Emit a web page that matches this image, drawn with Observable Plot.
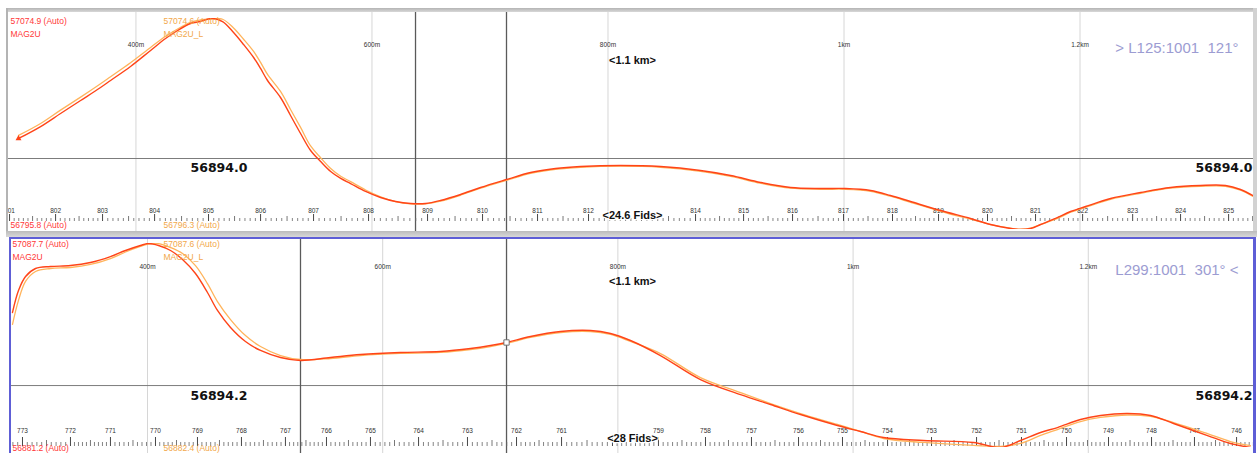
<!DOCTYPE html>
<html><head><meta charset="utf-8">
<script src="https://cdn.jsdelivr.net/npm/d3@7"></script>
<script src="https://cdn.jsdelivr.net/npm/@observablehq/plot@0.6"></script>
<style>
html,body{margin:0;padding:0;background:#fff;}
#wrap{position:relative;width:1259px;height:453px;overflow:hidden;font-family:"Liberation Sans",Arial,sans-serif;}
.panel{position:absolute;left:0;width:1259px;}
.deco{position:absolute;pointer-events:none;}
</style></head><body>
<div id="wrap">
  <div class="panel" id="top" style="top:8px;height:226px"></div>
  <div class="panel" id="bottom" style="top:234px;height:219px"></div>
  <div class="deco" style="left:6px;top:8px;width:1251px;height:4px;background:linear-gradient(#b4b4b4,#d8d8d8);"></div>
  <div class="deco" style="left:6px;top:8px;width:2px;height:226px;background:#b4b4b4;"></div>
  <div class="deco" style="left:1253px;top:8px;width:4px;height:226px;background:#d2d2d2;"></div>
  <div class="deco" style="left:6px;top:231px;width:1251px;height:6px;background:linear-gradient(#bcbcbc,#d8d8d8);"></div>
  <div class="deco" style="left:9px;top:237px;width:1247px;height:2px;background:#5e5ed6;"></div>
  <div class="deco" style="left:9px;top:237px;width:2px;height:216px;background:#5e5ed6;"></div>
  <div class="deco" style="left:1253px;top:237px;width:3px;height:216px;background:#5e5ed6;"></div>
</div>
<script>
// ---------- shared distance axis ----------
const distTicks = [400, 600, 800, 1000, 1200];
const distTickLabels = ["400m", "600m", "800m", "1km", "1.2km"];

// ---------- top profile: line L125:1001 ----------
const topFids = [801,802,803,804,805,806,807,808,809,810,811,812,813,814,815,816,817,818,819,820,821,822,823,824,825];
const topFidDist = [292.9,331.9,371.7,415.8,461.5,505.6,550.5,597.1,647.1,693.7,740.3,783.5,828.4,874.2,914.9,956.4,999.6,1041.1,1080.1,1121.6,1162.3,1202.2,1244.6,1285.2,1325.9];
const topHiddenFidLabels = [813]; // covered by the "<24.6 Fids>" caption
const topDist = [300.5,319.2,336.1,353.1,370.0,378.5,395.4,412.4,425.1,435.3,446.3,454.7,464.1,473.4,482.7,491.2,499.7,505.6,511.5,522.5,531.0,539.5,548.0,556.5,565.0,573.5,581.9,594.6,607.3,620.0,632.7,645.4,658.1,675.1,692.0,714.0,734.4,755.6,776.7,810.6,844.5,878.4,903.9,929.3,954.7,980.1,1001.3,1022.5,1039.4,1056.4,1081.8,1107.2,1124.2,1141.1,1149.6,1158.1,1166.6,1179.3,1192.0,1204.7,1225.9,1251.3,1276.7,1302.1,1323.3,1336.0,1346.2];
const topMAG2U = [56916.2,56932.0,56949.2,56966.4,56983.6,56992.9,57011.4,57032.6,57048.4,57059.0,57068.3,57070.9,57074.9,57070.9,57056.4,57040.5,57023.3,57008.8,56992.9,56970.4,56946.6,56922.8,56900.3,56885.7,56872.5,56863.3,56856.6,56846.1,56838.1,56832.8,56830.2,56830.2,56834.2,56842.1,56851.4,56861.9,56871.2,56876.5,56879.1,56880.5,56879.1,56873.8,56867.2,56858.0,56851.4,56850.0,56850.0,56847.4,56840.8,56832.8,56820.9,56810.4,56802.4,56797.1,56795.8,56797.1,56802.4,56810.4,56819.6,56826.2,56836.8,56844.7,56851.4,56854.0,56854.0,56848.7,56840.8];
const topMAG2U_L = [56920.2,56936.0,56953.7,56970.9,56988.6,56997.9,57016.4,57036.6,57051.4,57061.0,57069.8,57072.9,57074.6,57073.9,57062.4,57047.5,57031.3,57016.8,57000.9,56978.4,56954.6,56930.8,56906.3,56890.7,56876.5,56866.3,56859.1,56848.1,56839.1,56832.8,56829.7,56829.7,56833.2,56841.1,56850.4,56860.9,56870.2,56875.5,56878.1,56879.5,56878.1,56872.8,56866.2,56857.0,56850.4,56849.0,56849.0,56846.4,56839.8,56831.8,56819.9,56809.4,56802.4,56797.6,56796.3,56797.6,56802.4,56809.4,56818.6,56825.2,56835.8,56843.7,56850.4,56853.0,56853.0,56847.7,56839.8];
const topCursorDist = [636.9, 714.0];

// ---------- bottom profile: line L299:1001 ----------
const botFids = [773,772,771,770,769,768,767,766,765,764,763,762,761,760,759,758,757,756,755,754,753,752,751,750,749,748,747,746];
const botFidDist = [293.7,334.5,368.5,406.8,442.5,479.9,517.3,552.2,589.6,630.5,672.1,713.8,752.1,795.4,834.5,874.5,913.6,953.6,991.0,1029.3,1066.7,1105.0,1143.2,1181.5,1217.2,1253.8,1290.3,1326.1];
const botHiddenFidLabels = [760]; // covered by the "<28 Fids>" caption
const botDist = [285.2,290.3,296.3,304.8,317.5,334.5,351.5,368.5,381.3,394.0,400.8,409.4,419.6,429.8,440.8,451.0,459.5,470.6,483.3,496.1,513.1,530.1,555.6,581.1,615.1,649.2,674.7,691.7,705.3,725.7,751.2,776.7,793.7,810.7,836.2,870.2,904.3,929.8,955.3,986.7,1006.3,1025.9,1059.9,1102.4,1125.4,1142.4,1159.4,1173.8,1193.4,1210.4,1233.4,1252.9,1272.5,1301.4,1320.9,1337.9];
const botMAG2U = [57017.9,57040.1,57054.3,57062.4,57064.4,57065.4,57068.5,57074.5,57080.6,57085.7,57087.7,57085.7,57080.6,57071.5,57057.3,57038.1,57019.9,57002.7,56988.5,56979.4,56972.3,56969.3,56972.3,56975.3,56977.4,56978.4,56981.4,56984.4,56987.5,56993.6,56998.6,56999.6,56996.6,56989.5,56974.3,56950.0,56934.8,56924.7,56914.6,56903.5,56897.4,56891.3,56888.3,56886.3,56881.2,56888.3,56896.4,56901.4,56909.5,56913.6,56915.6,56913.6,56905.5,56893.3,56885.2,56881.2];
const botMAG2U_L = [57005.9,57030.1,57049.3,57059.4,57062.4,57063.4,57066.5,57072.5,57079.1,57084.7,57087.2,57087.6,57083.6,57077.5,57065.3,57047.1,57028.9,57010.7,56994.5,56983.4,56974.3,56970.3,56971.3,56974.3,56976.4,56977.4,56980.4,56983.4,56986.5,56992.6,56997.6,56998.6,56995.6,56988.5,56976.3,56952.0,56936.8,56925.7,56915.6,56904.5,56897.4,56890.3,56886.3,56883.3,56882.4,56885.3,56893.4,56899.4,56907.5,56911.6,56914.1,56912.6,56906.5,56895.3,56887.2,56883.2];
const botCursorDist = [530.1, 705.3];
const botMarkerDist = [705.3];

const RED = "#ff4418", ORANGE = "#ffb45c", RED_TXT = "#ff3838", ORANGE_TXT = "#f2a84a", LINE_TXT = "#9c9cd2";

function panel(cfg) {
  const p = cfg.fidDist;
  const minor = [];
  for (let i = -1; i < p.length; i++) {
    const a = i < 0 ? p[0] - (p[1] - p[0]) : p[i];
    const b = i < 0 ? p[0] : (i + 1 < p.length ? p[i + 1] : p[i] + (p[i] - p[i - 1]));
    for (let k = 1; k < 10; k++) minor.push({d: a + (b - a) * k / 10, half: k === 5});
  }
  const red = cfg.dist.map((d, i) => ({d, v: cfg.red[i]}));
  const orange = cfg.dist.map((d, i) => ({d, v: cfg.orange[i]}));
  const fids = cfg.fids.map((f, i) => ({f, d: cfg.fidDist[i]}));
  const dist = distTicks.map((d, i) => ({d, label: distTickLabels[i]}));
  const L = cfg.lab;
  const txt = (s, o) => Plot.text([s], Object.assign({text: d => d, lineAnchor: "middle"}, o));
  return Plot.plot({
    width: 1259, height: cfg.height,
    marginLeft: cfg.ml, marginRight: cfg.mr, marginTop: cfg.mt, marginBottom: cfg.mb,
    x: {domain: cfg.xDomain, axis: null},
    y: {domain: cfg.yDomain, axis: null},
    style: {fontFamily: "'Liberation Sans', Arial, sans-serif", background: "white", overflow: "visible"},
    marks: [
      Plot.ruleX(dist, {x: "d", stroke: "#d6d6d6", insetTop: cfg.spanTop, insetBottom: cfg.spanBottom}),
      Plot.ruleY([cfg.split], {stroke: "#7c7c7c", strokeWidth: 1}),
      Plot.ruleX(cfg.cursors, {stroke: "#5a5a5a", strokeWidth: 1.3, insetTop: cfg.spanTop, insetBottom: cfg.spanBottom}),
      Plot.ruleX(minor.filter(m => !m.half), {x: "d", stroke: "#666", strokeWidth: 0.8, insetTop: L.minorTop, insetBottom: L.tickBottom, clip: true}),
      Plot.ruleX(minor.filter(m => m.half), {x: "d", stroke: "#555", strokeWidth: 0.8, insetTop: L.halfTop, insetBottom: L.tickBottom, clip: true}),
      Plot.ruleX(fids, {x: "d", stroke: "#333", strokeWidth: 0.9, insetTop: L.majorTop, insetBottom: L.tickBottom, clip: true}),
      Plot.text(fids.filter(q => !cfg.hidden.includes(q.f)), {x: "d", text: d => String(d.f), frameAnchor: "bottom", dy: L.fidDy, fontSize: 6.5, fill: "#333", clip: true}),
      Plot.text(dist, {x: "d", text: "label", frameAnchor: "top", dy: L.distDy, fontSize: 6.5, fill: "#333"}),
      Plot.line(orange, {x: "d", y: "v", stroke: ORANGE, strokeWidth: 1.3, curve: "catmull-rom", clip: true}),
      Plot.line(red, {x: "d", y: "v", stroke: RED, strokeWidth: 1.4, curve: "catmull-rom", clip: true}),
      cfg.startMark ? Plot.dot([red[0]], {x: "d", y: "v", symbol: "triangle", r: 2.2, fill: RED, stroke: null}) : null,
      cfg.markers.length ? Plot.dot(red.filter(q => cfg.markers.includes(q.d)), {x: "d", y: "v", symbol: "square", r: 3, fill: "white", stroke: "#666", strokeWidth: 0.9}) : null,
      txt(cfg.redTop, {frameAnchor: "top-left", dx: L.leftDx, dy: L.topDy, textAnchor: "start", fill: RED_TXT, fontSize: 8.5}),
      txt("MAG2U", {frameAnchor: "top-left", dx: L.leftDx, dy: L.nameDy, textAnchor: "start", fill: RED_TXT, fontSize: 8.5}),
      txt(cfg.orangeTop, {frameAnchor: "top-left", dx: L.orangeDx, dy: L.topDy, textAnchor: "start", fill: ORANGE_TXT, fontSize: 8.5}),
      txt("MAG2U_L", {frameAnchor: "top-left", dx: L.orangeDx, dy: L.nameDy, textAnchor: "start", fill: ORANGE_TXT, fontSize: 8.5}),
      txt("<1.1 km>", {frameAnchor: "top", dx: L.midDx, dy: L.kmDy, fontWeight: "bold", fontSize: 11, fill: "#111"}),
      txt(cfg.lineLabel, {frameAnchor: "top-right", dx: -15, dy: L.lineDy, textAnchor: "end", fontSize: 15, fill: LINE_TXT}),
      txt(cfg.refValue, {frameAnchor: "top-left", dx: L.refDx, dy: L.refDy, fontWeight: "bold", fontSize: 12.5, fontFamily: "'DejaVu Sans', sans-serif", fill: "#111"}),
      txt(cfg.refValue, {frameAnchor: "top-right", dx: -1, dy: L.refDy, textAnchor: "end", fontWeight: "bold", fontSize: 12.5, fontFamily: "'DejaVu Sans', sans-serif", fill: "#111"}),
      txt(cfg.fidSpan, {frameAnchor: "bottom", dx: L.midDx, dy: L.spanDy, fontWeight: "bold", fontSize: 11, fill: "#111", stroke: "white", strokeWidth: 2.5, paintOrder: "stroke"}),
      txt(cfg.redBottom, {frameAnchor: "bottom-left", dx: L.leftDx, dy: L.botDy, textAnchor: "start", fill: RED_TXT, fontSize: 8.5}),
      txt(cfg.orangeBottom, {frameAnchor: "bottom-left", dx: L.orangeDx, dy: L.botDy, textAnchor: "start", fill: ORANGE_TXT, fontSize: 8.5})
    ].filter(Boolean)
  });
}

document.getElementById("top").append(panel({
  height: 226, ml: 8, mr: 6, mt: 10, mb: 5,
  xDomain: [292, 1347], yDomain: [56795.8, 57074.9],
  dist: topDist, red: topMAG2U, orange: topMAG2U_L,
  fids: topFids, fidDist: topFidDist, hidden: topHiddenFidLabels, cursors: topCursorDist,
  split: 56889.7, spanTop: -6, spanBottom: -2,
  startMark: true, markers: [],
  redTop: "57074.9 (Auto)", orangeTop: "57074.6 (Auto)",
  redBottom: "56795.8 (Auto)", orangeBottom: "56796.3 (Auto)",
  lineLabel: ">\u00a0L125:1001\u00a0\u00a0121°", refValue: "56894.0", fidSpan: "<24.6 Fids>",
  lab: {leftDx: 2, orangeDx: 155, topDy: 3, nameDy: 16, distDy: 24, kmDy: 42, midDx: 1.5, lineDy: 30,
        refDx: 182, refDy: 149, spanDy: -14, botDy: -4, fidDy: -17,
        majorTop: 196, halfTop: 198, minorTop: 200, tickBottom: 8}
}));

document.getElementById("bottom").append(panel({
  height: 219, ml: 10, mr: 6, mt: 9, mb: 6,
  xDomain: [283.5, 1340.5], yDomain: [56881.2, 57087.7],
  dist: botDist, red: botMAG2U, orange: botMAG2U_L,
  fids: botFids, fidDist: botFidDist, hidden: botHiddenFidLabels, cursors: botCursorDist,
  split: 56943.9, spanTop: -5, spanBottom: -6,
  startMark: false, markers: botMarkerDist,
  redTop: "57087.7 (Auto)", orangeTop: "57087.6 (Auto)",
  redBottom: "56881.2 (Auto)", orangeBottom: "56882.4 (Auto)",
  lineLabel: "L299:1001\u00a0\u00a0301°\u00a0<", refValue: "56894.2", fidSpan: "<28 Fids>",
  lab: {leftDx: 2, orangeDx: 153, topDy: 1, nameDy: 14, distDy: 21, kmDy: 38, midDx: 0.5, lineDy: 27,
        refDx: 180, refDy: 152, spanDy: -9, botDy: 1, fidDy: -15,
        majorTop: 194, halfTop: 197, minorTop: 199, tickBottom: 1}
}));
</script>
</body></html>
